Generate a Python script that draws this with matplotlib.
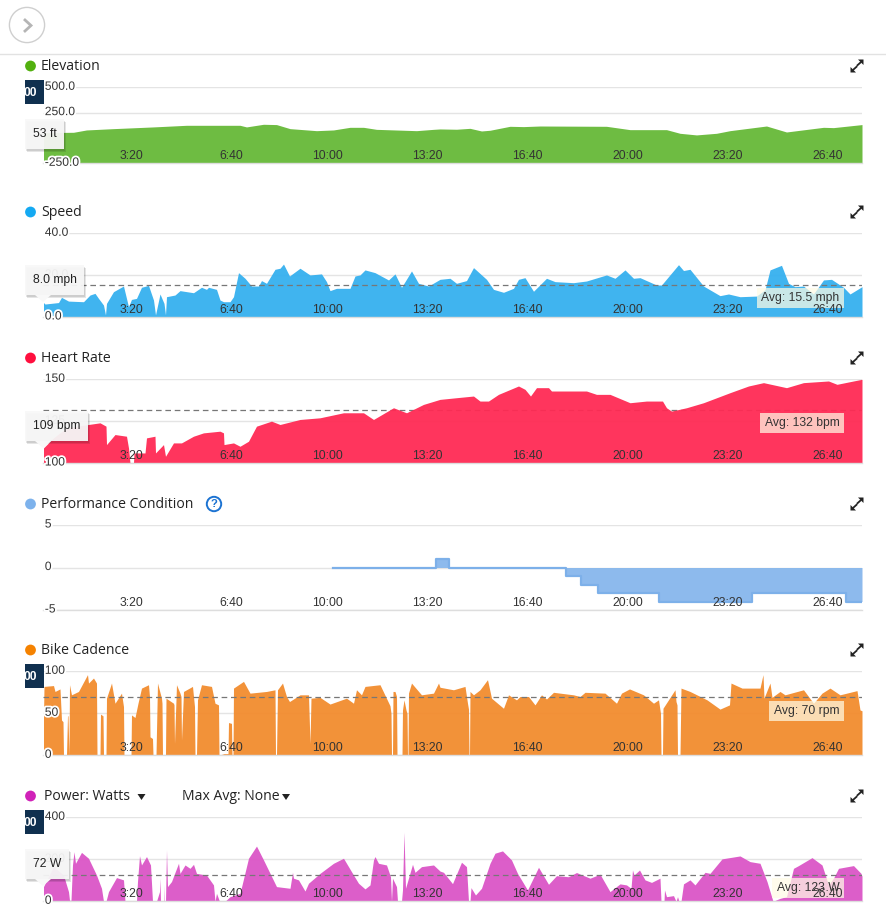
import matplotlib
matplotlib.use("Agg")
import matplotlib.pyplot as plt
import matplotlib.patheffects as pe
from matplotlib.patches import Circle, Rectangle, Polygon
from matplotlib.transforms import ScaledTranslation

# ---------- data: time in seconds, value in the unit of each panel ----------
elev_t = [1,61,87,141,221,287,394,407,441,467,494,547,581,614,641,667,747,781,794,827,854,877,894,934,961,994,1127,1174,1247,1274,1307,1347,1374,1447,1487,1561,1581,1638]
elev_v = [53,56,79,92,109,125,125,109,135,132,92,72,79,105,105,85,72,85,89,86,95,69,76,115,112,118,115,82,82,46,30,46,72,118,59,105,102,132]

speed_t = [1,4,31,37,51,81,94,104,111,121,125,127,141,161,171,177,187,197,211,221,225,234,242,245,247,264,274,301,317,327,331,347,354,361,374,381,391,404,417,431,437,447,464,474,481,493,514,534,557,567,574,587,614,624,634,644,664,691,704,717,724,737,751,771,794,814,827,847,861,887,901,921,941,951,964,981,1007,1024,1061,1087,1127,1144,1164,1181,1194,1227,1237,1271,1281,1294,1321,1354,1371,1394,1427,1444,1454,1477,1491,1504,1521,1541,1561,1577,1601,1614,1638]
speed_v = [6.9,6.2,6.9,9.4,7.6,7.3,10.5,11.3,8.9,5.7,1.0,6.5,12.1,14.8,4.9,8.4,8.9,14.2,15.1,8.1,1.0,11.0,6.5,1.0,9.7,10.5,12.6,11.6,14.2,13.2,14.2,13.2,8.1,7.3,7.3,9.7,21.2,18.5,14.8,14.8,17.4,16.1,22.8,23.3,25.3,19.6,23.3,20.1,20.6,16.9,12.6,13.7,13.7,19.6,20.1,22.5,21.2,17.7,20.6,14.2,16.9,22.0,16.1,14.8,18.0,18.5,16.1,17.4,23.6,18.0,13.2,11.8,13.7,18.0,18.8,12.3,18.5,16.9,16.4,17.2,20.1,18.5,22.5,18.5,18.8,15.3,15.3,25.0,22.2,22.8,14.8,10.2,11.0,9.7,10.0,13.0,22.5,24.7,16.1,14.5,14.8,11.0,17.7,18.0,14.2,11.0,14.5]

hr_t = [1,21,47,91,114,126,127,144,167,171,174,181,182,204,207,224,225,241,245,261,277,301,321,354,361,362,381,394,411,427,457,474,514,554,601,641,661,701,727,761,794,827,861,874,891,911,951,964,975,987,1011,1017,1067,1087,1107,1134,1174,1207,1239,1247,1257,1287,1321,1374,1411,1441,1487,1521,1571,1588,1621,1638]
hr_v = [109,115,121,123,124,122,111,117,116,109,100,100,106,106,115,116,106,111,104,112,112,116,118,119,118,111,112,110,113,122,125,123,126,127,130,130,126,133,130,135,138,139,140,137,137,141,146,144,140,145,145,143,143,143,141,141,136,137,137,133,131,133,136,142,146,148,145,148,149,147,149,150]

perf_t = [580,786,787,812,813,1046,1047,1076,1077,1110,1111,1232,1233,1418,1419,1606,1607,1638]
perf_v = [0,0,1,1,0,0,-1,-1,-2,-2,-3,-3,-4,-4,-3,-3,-4,-4]

cad_t = [1,2,21,24,34,37,40,41,47,49,50,52,53,57,71,89,91,101,107,108,114,115,120,121,126,127,137,144,157,161,162,176,177,184,190,197,211,213,214,219,220,226,229,237,238,239,245,246,261,262,263,267,274,276,277,281,299,303,304,307,309,317,337,344,351,352,362,370,371,377,378,380,381,401,414,447,464,465,467,469,479,487,493,514,531,534,536,554,574,607,621,627,637,644,674,694,696,697,699,700,704,707,708,718,719,722,726,728,729,730,731,737,757,781,791,794,821,844,849,851,852,853,854,861,874,889,897,921,931,947,954,971,984,997,1007,1021,1061,1074,1084,1124,1147,1157,1173,1201,1221,1231,1234,1235,1236,1239,1240,1264,1266,1268,1269,1274,1276,1294,1328,1354,1373,1376,1398,1434,1440,1442,1454,1458,1474,1484,1521,1541,1558,1574,1594,1628,1634,1638]
cad_v = [45,82,83,76,79,42,40,0,0,47,47,0,84,72,76,96,86,92,86,0,0,49,47,0,0,68,86,62,74,58,0,0,48,45,62,80,84,70,22,20,0,0,86,68,62,0,0,68,62,60,14,84,74,70,18,76,82,58,0,0,66,84,82,62,60,0,2,2,39,38,0,0,80,88,74,76,78,0,0,78,86,70,64,72,72,14,68,69,61,68,62,78,72,82,84,59,50,0,0,76,76,70,0,0,54,66,54,50,0,0,74,86,72,74,86,81,78,82,62,55,0,0,76,72,78,90,68,56,72,66,70,70,60,72,67,75,72,70,75,74,62,74,79,72,62,66,54,50,0,0,56,78,64,60,0,0,80,76,66,55,60,86,80,80,96,68,86,69,76,72,78,62,74,80,72,77,54,53]

pow_t = [1,21,41,51,53,56,59,62,65,77,91,107,117,121,126,131,147,161,164,187,189,193,197,207,215,219,227,233,234,235,241,241.5,242,245,247,249,257,271,274,284,294,301,307,327,341,344,347,353,364,374,394,411,427,441,467,494,499,501,511,524,531,554,581,601,621,631,644,654,661,664,671,687,695,697,699,707,709,717,719,722,725,729,739,744,757,781,794,801,819,837,847,851,854,856,865,877,894,904,919,937,949,969,991,1011,1027,1051,1067,1094,1114,1134,1154,1167,1176,1179,1182,1193,1204,1217,1234,1236,1242,1243,1247,1261,1266,1269,1272,1276,1281,1294,1304,1324,1334,1358,1394,1414,1434,1448,1460,1474,1487,1501,1511,1538,1558,1571,1581,1591,1621,1636,1638]
pow_v = [70,165,125,46,5,5,173,236,181,233,205,125,62,0,0,46,113,102,0,0,94,217,173,213,173,0,0,46,110,0,0,78,0,0,244,70,94,181,133,173,157,176,133,125,78,0,38,0,0,22,38,205,263,197,70,62,138,110,102,49,86,133,181,205,125,86,59,78,197,213,181,173,117,0,110,70,0,0,54,329,62,94,176,138,165,173,144,138,84,186,165,0,0,65,30,62,181,229,240,197,133,54,162,81,122,117,137,110,129,46,83,78,62,149,125,149,102,90,110,0,0,54,22,27,0,22,0,0,83,102,78,138,133,202,216,189,181,94,0,14,22,157,170,208,173,78,110,157,170,133,120]

avg_speed = 15.1
avg_hr = 131.5
avg_cad = 69
avg_pow = 124

time_ticks = [200,400,600,800,1000,1200,1400,1600]
time_labels = ["3:20","6:40","10:00","13:20","16:40","20:00","23:20","26:40"]

titles = ["Elevation","Speed","Heart Rate","Performance Condition","Bike Cadence"]
title_y = [66,212,358,504,650]
dot_colors = ["#52b00f","#14a9f2","#ff0f3e","#7db2ec","#f58200"]

# ---------- layout helpers ----------
W, H = 887, 918
fig = plt.figure(figsize=(W/100, H/100), dpi=100, facecolor="white")
HELV = "Liberation Sans"
OPEN = "Open Sans"
TXT = "#333333"

ov = fig.add_axes([0, 0, 1, 1], zorder=10)
ov.set_xlim(0, W); ov.set_ylim(H, 0); ov.axis("off"); ov.patch.set_alpha(0)

def make_axes(top, bottom):
    return fig.add_axes([43/W, 1-bottom/H, (862-43)/W, (bottom-top)/H])

def panel(top, bottom, t, v, ylim, yticks, ylabels, color, avg=None, avg_below=False,
          fill_alpha=0.95, base=None, line=None, avg_box=None):
    ax = make_axes(top, bottom)
    ax.patch.set_alpha(0)
    ax.set_axisbelow(False)
    ax.set_xlim(0, 1638)
    ax.set_ylim(*ylim)
    for s in ["top", "left", "right"]:
        ax.spines[s].set_visible(False)
    ax.spines["bottom"].set_color("#dddddd")
    ax.spines["bottom"].set_linewidth(1.0)
    ax.hlines(yticks, 0, 1638, color="#e4e4e4", lw=1.0, zorder=1)
    b = ylim[0] if base is None else base
    ax.fill_between(t, v, b, color=color, alpha=fill_alpha, lw=0, zorder=2)
    if line:
        ax.step(t, v, where="post", color=line, lw=1.6, zorder=2.1)
    if avg is not None:
        ax.axhline(avg, color="#777777", lw=0.9, ls=(0, (4.5, 3)),
                   zorder=1.5 if avg_below else 2.1)
    ax.set_xticks(time_ticks)
    ax.set_xticklabels(time_labels, fontfamily=HELV, fontsize=8.7, color=TXT, ha="right")
    ax.tick_params(axis="x", length=0, pad=-9.3)
    ax.set_yticks(yticks)
    ax.set_yticklabels(ylabels, fontfamily=HELV, fontsize=8.7, color=TXT, ha="left")
    ax.tick_params(axis="y", length=0, pad=-1.3)
    off = ScaledTranslation(0, 2/100, fig.dpi_scale_trans)
    for lab in ax.get_yticklabels():
        lab.set_transform(lab.get_transform() + off)
        lab.set_path_effects([pe.withStroke(linewidth=2.6, foreground="white")])
    if avg_box:
        x0, x1, y0, y1, s = avg_box
        ax.add_patch(Rectangle((x0, y0), x1-x0, y1-y0, transform=ov.transData, fc="#fffbe5",
                               ec="none", alpha=0.72, zorder=2.2, clip_on=False))
        ax.text((x0+x1)/2, (y0+y1)/2, s, transform=ov.transData, fontfamily=HELV, fontsize=8.7,
                color=TXT, ha="center", va="center", zorder=2.3)
    return ax

panel(87.3, 163.3, elev_t, elev_v, (-250, 500), [-250, 250, 500], ["-250.0", "250.0", "500.0"], "#66b938")
panel(233.3, 317, speed_t, speed_v, (0, 40), [0, 20, 40], ["0.0", "20.0", "40.0"], "#35b0ef", avg=avg_speed,
      avg_box=(757, 844, 288, 308, "Avg: 15.5 mph"))
panel(379.3, 463, hr_t, hr_v, (100, 150), [100, 125, 150], ["100", "125", "150"], "#ff2a54", avg=avg_hr, avg_below=True,
      avg_box=(760, 844, 413, 433, "Avg: 132 bpm"))
panel(525, 610, perf_t, perf_v, (-5, 5), [-5, 0, 5], ["-5", "0", "5"], "#87b7ec", base=0, line="#7db0e9")
panel(671.3, 755.3, cad_t, cad_v, (0, 100), [0, 50, 100], ["0", "50", "100"], "#f28c2e", avg=avg_cad,
      avg_box=(769, 844, 701, 721, "Avg: 70 rpm"))
panel(817.3, 901.3, pow_t, pow_v, (0, 400), [0, 200, 400], ["0", "200", "400"], "#db55c6", avg=avg_pow,
      avg_box=(772, 844, 878, 898, "Avg: 123 W"))

# ---------- page furniture in pixel coordinates ----------
ov.add_patch(Circle((27, 25), 17.6, fc="white", ec="#cfcfcf", lw=1.0))
ov.plot([25, 31, 25], [20, 25.5, 31], color="#b5b5b5", lw=2.0, solid_joinstyle="miter")
ov.plot([0, W], [54, 54], color="#e2e2e2", lw=1.0)

for name, y, c in zip(titles, title_y, dot_colors):
    ov.add_patch(Circle((30.5, y), 5.4, fc=c, ec="none"))
    ov.text(41, y+1, name, fontfamily=OPEN, fontsize=10.1, color="#222222", va="center", ha="left")
ov.add_patch(Circle((30.5, 796), 5.4, fc="#d022b8", ec="none"))
ov.text(44.5, 797, "Power: Watts", fontfamily=OPEN, fontsize=10.1, color="#222222", va="center")
ov.text(182, 797, "Max Avg: None", fontfamily=OPEN, fontsize=10.1, color="#222222", va="center")
for x in (141.5, 286):
    ov.add_patch(Polygon([(x-4, 794), (x+4, 794), (x, 800)], fc="#222222", ec="none"))

ov.add_patch(Circle((214, 504), 7.2, fc="white", ec="#1c73d2", lw=1.4))
ov.text(214, 504.3, "?", fontfamily=HELV, fontsize=8, fontweight="bold", color="#1c73d2", ha="center", va="center")

# expand icons: two small outward arrows
for y in [66, 212, 358, 504, 650, 796]:
    ov.add_patch(Polygon([(863.5, y-6.5), (858, y-6.5), (863.5, y-1)], fc="#222222", ec="none"))
    ov.plot([860.5, 857.5], [y-3.5, y-0.8], color="#222222", lw=1.3)
    ov.add_patch(Polygon([(850.5, y+6.5), (856, y+6.5), (850.5, y+1)], fc="#222222", ec="none"))
    ov.plot([853.5, 856.5], [y+3.5, y+0.8], color="#222222", lw=1.3)

# dark tabs
for y0 in [80, 664, 810]:
    ov.add_patch(Rectangle((25, y0), 19.5, 24, fc="#10304f", ec="none"))
    ov.text(30.5, y0+12.5, "00", fontfamily=HELV, fontsize=8.7, fontweight="bold", color="white", ha="center", va="center")

# hover tooltips
def tooltip(x1, y0, y1, s, arrow=True):
    ov.add_patch(Rectangle((27, y0+3), x1-25, y1-y0, fc="#000000", ec="none", alpha=0.10))
    ov.add_patch(Rectangle((26, y0+1.5), x1-25, y1-y0, fc="#000000", ec="none", alpha=0.10))
    ov.add_patch(Rectangle((25, y0), x1-25, y1-y0, fc="#f8f8f8", ec="none", alpha=0.94))
    if arrow:
        ov.add_patch(Polygon([(35, y1), (51, y1), (43, y1+7)], fc="#f8f8f8", ec="none", zorder=5))
    ov.text(33, (y0+y1)/2, s, fontfamily=HELV, fontsize=8.7, color="#222222", va="center", ha="left", zorder=6)

tooltip(64, 119, 149, "53 ft", arrow=False)
tooltip(84, 265, 295, "8.0 mph")
tooltip(88, 411, 441, "109 bpm")
tooltip(69, 849, 879, "72 W")

fig.savefig("out.png", dpi=100, facecolor="white")
